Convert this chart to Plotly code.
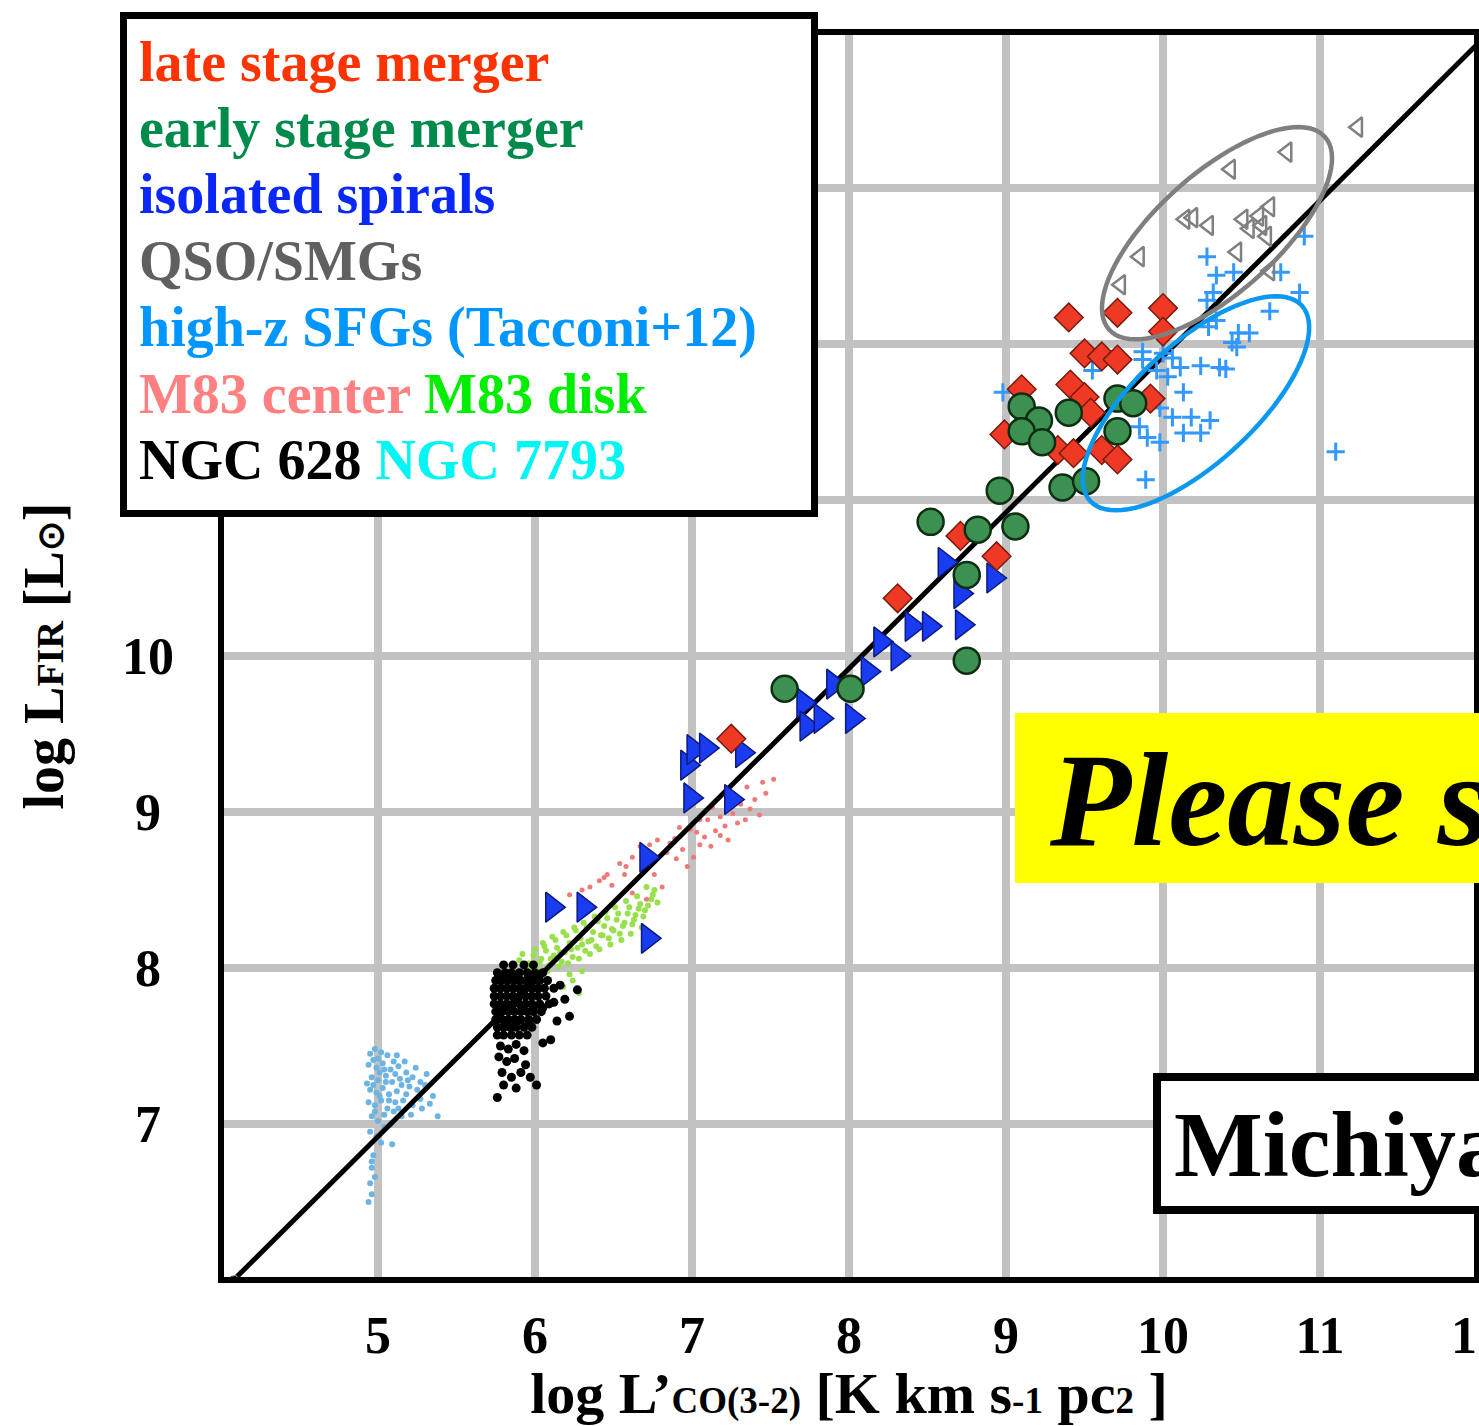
import numpy as np
import plotly.graph_objects as go

# ---------------- data ----------------
# late stage mergers (red diamonds)
late_x = [9.40, 9.71, 10.00, 10.00, 9.50, 9.61, 9.71, 9.41, 9.50, 9.54, 9.10, 8.99,
          9.33, 9.43, 9.61, 9.71, 9.92, 8.71, 8.94, 8.31, 7.25]
late_y = [12.17, 12.20, 12.23, 12.08, 11.94, 11.92, 11.90, 11.74, 11.66, 11.56, 11.71, 11.42,
          11.32, 11.30, 11.32, 11.26, 11.65, 10.77, 10.64, 10.37, 9.47]

# early stage mergers (green circles)
early_x = [9.10, 9.21, 9.10, 9.23, 9.40, 9.71, 9.81, 9.71, 8.96, 9.36, 9.51,
           8.52, 8.82, 9.06, 8.75, 8.75, 7.59, 8.01]
early_y = [11.60, 11.51, 11.44, 11.37, 11.56, 11.65, 11.62, 11.44, 11.06, 11.08, 11.12,
           10.86, 10.81, 10.83, 10.52, 9.97, 9.79, 9.79]

# isolated spirals (blue triangles)
iso_x = [6.11, 6.31, 6.71, 6.72, 6.99, 7.25, 6.97, 7.01, 7.09, 7.32, 7.71, 7.73,
         7.82, 8.02, 7.90, 8.12, 8.20, 8.31, 8.40, 8.51, 8.72, 8.71, 8.61, 8.92]
iso_y = [8.39, 8.39, 8.71, 8.19, 9.09, 9.08, 9.30, 9.40, 9.41, 9.38, 9.70, 9.55,
         9.60, 9.60, 9.82, 9.90, 10.09, 10.00, 10.19, 10.19, 10.20, 10.40, 10.60, 10.50]

# QSO / SMGs (open triangles)
qso_x = [11.24, 10.79, 10.43, 10.14, 10.19, 10.29, 10.51, 10.61, 10.68, 10.63,
         10.66, 10.47, 9.85, 9.73, 10.68, 10.55]
qso_y = [13.39, 13.23, 13.12, 12.80, 12.81, 12.76, 12.80, 12.82, 12.88, 12.76,
         12.69, 12.59, 12.56, 12.38, 12.47, 12.74]

# high-z SFGs, Tacconi+12 (crosses)
sfg_x = [10.90, 10.28, 10.34, 10.45, 10.75, 10.87, 10.28, 10.68, 10.34, 10.48,
         10.55, 10.47, 9.87, 10.00, 10.06, 10.24, 10.36, 9.96, 10.03, 10.13,
         8.98, 9.55, 9.87, 9.98, 10.06, 10.30, 10.13, 10.24, 9.85, 9.90,
         9.98, 9.89, 11.10, 10.11, 10.32, 10.29, 10.44, 10.18, 10.40]
sfg_y = [12.69, 12.56, 12.44, 12.46, 12.46, 12.33, 12.28, 12.21, 12.15, 12.07,
         12.07, 11.98, 11.95, 11.94, 11.91, 11.86, 11.85, 11.83, 11.79, 11.69,
         11.69, 11.83, 11.90, 11.59, 11.53, 11.51, 11.43, 11.43, 11.47, 11.40,
         11.37, 11.13, 11.31, 11.85, 12.33, 12.11, 12.01, 11.53, 11.84]

# M83 centre (salmon dots)
m83c_x = [6.35, 6.41, 6.46, 6.54, 6.62, 6.67, 6.73, 6.78, 6.84, 6.89, 6.92, 6.99,
          7.03, 7.05, 7.10, 7.13, 7.18, 7.26, 7.29, 7.26, 7.35, 7.31, 7.40, 7.45,
          7.52, 7.43, 7.01, 7.12, 6.97, 6.81, 6.71, 6.62, 6.22, 6.49, 6.57, 7.05,
          7.18, 7.34, 7.23, 6.30, 6.44, 6.58, 6.70, 6.86, 6.94, 7.08, 7.21, 7.37,
          7.47, 6.76, 6.90, 7.15]
m83c_y = [8.52, 8.56, 8.60, 8.67, 8.71, 8.78, 8.79, 8.82, 8.74, 8.83, 8.90, 8.89,
          8.87, 8.95, 8.95, 9.03, 8.97, 8.99, 8.93, 9.08, 9.16, 9.05, 9.08, 9.19,
          9.21, 8.98, 8.71, 8.78, 8.65, 8.52, 8.44, 8.48, 8.47, 8.53, 8.60, 8.79,
          8.85, 8.95, 8.82, 8.50, 8.58, 8.65, 8.74, 8.80, 8.76, 8.84, 8.91, 9.02,
          9.12, 8.60, 8.70, 8.88]

# M83 disk (light green dots)
m83d_x = [5.86, 5.90, 5.93, 5.96, 5.99, 6.02, 6.04, 6.07, 6.09, 6.12, 6.14, 6.17,
          6.19, 6.22, 6.24, 6.27, 6.29, 6.32, 6.34, 6.37, 6.39, 6.42, 6.44, 6.47,
          6.49, 6.52, 6.54, 6.57, 6.59, 6.62, 6.64, 6.67, 6.69, 6.72, 6.75, 6.78,
          5.95, 6.01, 6.08, 6.15, 6.21, 6.28, 6.35, 6.41, 6.48, 6.55, 6.61, 6.68,
          6.05, 6.11, 6.18, 6.25, 6.31, 6.38, 6.45, 6.51, 6.58, 6.65, 6.71,
          6.18, 6.24, 6.28, 6.30, 6.22,
          5.88, 5.97, 6.03, 6.10, 6.16, 6.23, 6.30, 6.36, 6.43, 6.50, 6.56, 6.63,
          6.70, 6.76, 5.92, 6.00, 6.06, 6.13, 6.20, 6.26, 6.33, 6.40, 6.46, 6.53,
          6.60, 6.66, 6.74]
m83d_y = [8.00, 8.05, 7.96, 8.03, 8.08, 7.99, 8.06, 8.11, 8.02, 8.08, 8.13, 8.04,
          8.10, 8.16, 8.07, 8.13, 8.19, 8.11, 8.17, 8.23, 8.14, 8.21, 8.27, 8.19,
          8.25, 8.31, 8.22, 8.29, 8.35, 8.28, 8.34, 8.41, 8.33, 8.40, 8.47, 8.42,
          7.92, 7.95, 7.98, 8.01, 8.03, 8.06, 8.09, 8.12, 8.15, 8.18, 8.22, 8.26,
          8.16, 8.20, 8.23, 8.26, 8.29, 8.33, 8.36, 8.39, 8.43, 8.46, 8.52,
          7.88, 7.92, 7.84, 7.98, 7.96,
          7.97, 8.00, 8.04, 8.06, 8.10, 8.12, 8.15, 8.18, 8.21, 8.24, 8.27, 8.31,
          8.37, 8.50, 8.09, 8.12, 8.14, 8.18, 8.21, 8.24, 8.26, 8.30, 8.32, 8.35,
          8.39, 8.38, 8.44]

# NGC 628 (black dots)
n628_x = [5.80, 5.86, 5.93, 5.99,
          5.76, 5.81, 5.85, 5.90, 5.95, 6.00, 6.05,
          5.75, 5.79, 5.83, 5.87, 5.91, 5.95, 5.99, 6.03, 6.08,
          5.74, 5.78, 5.82, 5.86, 5.90, 5.94, 5.98, 6.02, 6.06, 6.12,
          5.74, 5.78, 5.82, 5.86, 5.90, 5.94, 5.98, 6.02, 6.07,
          5.74, 5.78, 5.82, 5.86, 5.90, 5.94, 5.98, 6.03, 6.09,
          5.75, 5.79, 5.83, 5.87, 5.91, 5.95, 5.99, 6.04,
          5.75, 5.79, 5.83, 5.87, 5.91, 5.96, 6.01,
          5.76, 5.80, 5.84, 5.88, 5.93, 5.98,
          5.76, 5.80, 5.85, 5.90, 5.95,
          5.78, 5.83, 5.88, 5.93, 5.77, 5.82, 5.87, 5.94, 5.79, 5.85, 5.91, 5.97,
          5.80, 5.88, 5.76, 6.01, 6.10, 6.22, 6.27, 6.16, 6.12, 6.19, 6.14, 6.05,
          5.77, 5.84, 5.89, 5.96, 6.02, 5.78, 5.85, 5.92, 5.99, 6.05, 5.81, 5.88, 5.96]
n628_y = [8.02, 8.02, 8.02, 8.02,
          7.97, 7.97, 7.97, 7.97, 7.97, 7.97, 7.97,
          7.92, 7.92, 7.92, 7.92, 7.92, 7.92, 7.92, 7.92, 7.92,
          7.87, 7.87, 7.87, 7.87, 7.87, 7.87, 7.87, 7.87, 7.87, 7.87,
          7.82, 7.82, 7.82, 7.82, 7.82, 7.82, 7.82, 7.82, 7.82,
          7.77, 7.77, 7.77, 7.77, 7.77, 7.77, 7.77, 7.77, 7.77,
          7.72, 7.72, 7.72, 7.72, 7.72, 7.72, 7.72, 7.72,
          7.67, 7.67, 7.67, 7.67, 7.67, 7.67, 7.67,
          7.62, 7.62, 7.62, 7.62, 7.62, 7.62,
          7.57, 7.57, 7.57, 7.57, 7.57,
          7.50, 7.48, 7.51, 7.47, 7.43, 7.40, 7.42, 7.38, 7.33, 7.30, 7.33, 7.30,
          7.25, 7.23, 7.17, 7.25, 7.54, 7.69, 7.86, 7.89, 7.78, 7.80, 7.66, 7.52,
          7.945, 7.945, 7.945, 7.945, 7.945, 7.745, 7.745, 7.745, 7.745, 7.745,
          7.645, 7.645, 7.645]

# NGC 7793 (light blue dots)
n7793_x = [4.95, 4.98, 5.02, 5.06, 5.10, 4.94, 4.99, 5.03, 5.08, 5.13, 5.18, 5.22,
           4.96, 5.00, 5.05, 5.09, 5.14, 5.20, 5.25, 5.30, 5.35, 4.95, 4.99, 5.03,
           5.07, 5.12, 5.16, 5.22, 5.28, 5.38, 4.94, 4.98, 5.02, 5.06, 5.10, 5.15,
           4.96, 5.00, 5.04, 5.08, 4.95, 4.99, 5.02, 4.97, 4.96, 4.95, 4.96, 4.94,
           5.12, 5.17, 5.24, 5.31, 5.00, 5.05, 5.09,
           4.97, 5.01, 5.04, 5.11, 5.15, 5.19, 5.27, 4.93, 4.97, 5.01, 5.07, 5.11,
           5.18, 5.33, 4.98, 5.04, 5.13, 5.27, 5.21, 4.96, 4.98]
n7793_y = [7.45, 7.48, 7.46, 7.44, 7.40, 7.38, 7.36, 7.39, 7.35, 7.37, 7.33, 7.30,
           7.30, 7.28, 7.31, 7.27, 7.29, 7.24, 7.22, 7.25, 7.18, 7.22, 7.20, 7.23,
           7.19, 7.21, 7.15, 7.12, 7.10, 7.05, 7.14, 7.12, 7.15, 7.10, 7.08, 7.05,
           7.05, 7.02, 6.98, 7.00, 6.95, 6.92, 6.88, 6.80, 6.72, 6.62, 6.55, 6.50,
           7.44, 7.40, 7.36, 7.32, 7.42, 7.27, 6.87,
           7.41, 7.33, 7.35, 7.32, 7.25, 7.28, 7.27, 7.26, 7.25, 7.18, 7.15, 7.14,
           7.19, 7.13, 7.08, 7.06, 7.10, 7.16, 7.06, 6.76, 6.66]

# one-to-one style relation drawn across the panel
rel_x = [4.08, 12.0]
rel_y = [6.0, 13.92]

x_ticks = [5, 6, 7, 8, 9, 10, 11, 12]
y_ticks = [7, 8, 9, 10, 11, 12, 13]
y_ticktext = ["7\u00a0", "8\u00a0", "9\u00a0", "10", "", "", ""]

# ---------------- layout geometry ----------------
W, H = 1479, 1426
ML, MR, MT, MB = 221, 2, 32, 146
PW, PH = W - ML - MR, H - MT - MB


def px_x(p):
    return (p - ML) / PW


def px_y(p):
    return (H - MB - p) / PH


SERIF = "Liberation Serif, Times New Roman, serif"

fig = go.Figure()


def dots(x, y, color, size):
    fig.add_trace(go.Scatter(x=x, y=y, mode="markers",
                             marker=dict(size=size, color=color, line=dict(width=0)),
                             hoverinfo="skip"))


dots(n7793_x, n7793_y, "#6cb4e4", 6)
dots(m83d_x, m83d_y, "#98e04c", 6)
dots(m83c_x, m83c_y, "#f07a78", 5)
dots(n628_x, n628_y, "#000000", 9)

fig.add_trace(go.Scatter(x=rel_x, y=rel_y, mode="lines+markers",
                         line=dict(color="black", width=5),
                         marker=dict(size=[10, 0], color="black"),
                         hoverinfo="skip"))

fig.add_trace(go.Scatter(x=sfg_x, y=sfg_y, mode="markers",
                         marker=dict(symbol="cross-thin", size=13,
                                     line=dict(color="#3399ff", width=3))))
fig.add_trace(go.Scatter(x=qso_x, y=qso_y, mode="markers",
                         marker=dict(symbol="triangle-left-open", size=17, color="#808080",
                                     line=dict(color="#808080", width=2.5))))
fig.add_trace(go.Scatter(x=iso_x, y=iso_y, mode="markers",
                         marker=dict(symbol="triangle-right", size=26, color="#1a3cf0",
                                     line=dict(color="#0a1a80", width=1.5))))
fig.add_trace(go.Scatter(x=late_x, y=late_y, mode="markers",
                         marker=dict(symbol="diamond", size=22, color="#ee3a24",
                                     line=dict(color="#7a1a0e", width=1.5))))
fig.add_trace(go.Scatter(x=early_x, y=early_y, mode="markers",
                         marker=dict(symbol="circle", size=26, color="#3c9150",
                                     line=dict(color="#0d2e12", width=2.5))))


def ellipse_path(cx, cy, a, b, ang_deg, n=90):
    th = np.radians(ang_deg)
    t = np.linspace(0, 2 * np.pi, n, endpoint=False)
    xs = cx + a * np.cos(th) * np.cos(t) - b * np.sin(th) * np.sin(t)
    ys = cy + a * np.sin(th) * np.cos(t) + b * np.cos(th) * np.sin(t)
    pts = ["{:.4f},{:.4f}".format(u, v) for u, v in zip(xs, ys)]
    return "M" + " L".join(pts) + " Z"


shapes = [
    # grey ellipse around QSO/SMGs
    dict(type="path", xref="x", yref="y", path=ellipse_path(10.344, 12.71, 0.924, 0.382, 42),
         line=dict(color="#7f7f7f", width=4.5), layer="above"),
    # blue ellipse around high-z SFGs
    dict(type="path", xref="x", yref="y", path=ellipse_path(10.21, 11.62, 0.92, 0.38, 43),
         line=dict(color="#0a98f0", width=4.5), layer="above"),
    # plot frame
    dict(type="rect", xref="paper", yref="paper", x0=0, x1=1, y0=0, y1=1,
         line=dict(color="black", width=6), layer="above"),
    # key box
    dict(type="rect", xref="paper", yref="paper",
         x0=px_x(123.5), x1=px_x(814.5), y0=px_y(513.5), y1=px_y(15.5),
         line=dict(color="black", width=7), fillcolor="white", layer="above"),
    # yellow banner
    dict(type="rect", xref="paper", yref="paper",
         x0=px_x(1015), x1=px_x(1520), y0=px_y(883), y1=px_y(713),
         line=dict(width=0), fillcolor="#ffff00", layer="above"),
    # name box
    dict(type="rect", xref="paper", yref="paper",
         x0=px_x(1157), x1=px_x(1540), y0=px_y(1210), y1=px_y(1077),
         line=dict(color="black", width=8), fillcolor="white", layer="above"),
]

key_lines = [
    ("late stage merger", "#ff3300"),
    ("early stage merger", "#008a4c"),
    ("isolated spirals", "#0a28f5"),
    ("QSO/SMGs", "#606060"),
    ("high-z SFGs (Tacconi+12)", "#0096ff"),
    ("<span style='color:#ff8080'>M83 center</span> <span style='color:#00ee00'>M83 disk</span>", None),
    ("<span style='color:#000000'>NGC 628</span> <span style='color:#00f5f5'>NGC 7793</span>", None),
]
key_baselines = [81, 147, 213, 280, 346, 413, 479]

annotations = []
for (txt, col), base in zip(key_lines, key_baselines):
    annotations.append(dict(
        text=txt, xref="paper", yref="paper", x=px_x(137), y=px_y(base - 19),
        xanchor="left", yanchor="middle", showarrow=False,
        font=dict(family=SERIF, size=56, color=col or "black", weight="bold")))

annotations.append(dict(
    text="<i>Please s</i>", xref="paper", yref="paper", x=px_x(1047), y=px_y(845 - 45),
    xanchor="left", yanchor="middle", showarrow=False,
    font=dict(family=SERIF, size=133, color="black", weight="bold")))
annotations.append(dict(
    text="Michiya", xref="paper", yref="paper", x=px_x(1172), y=px_y(1176 - 32),
    xanchor="left", yanchor="middle", showarrow=False,
    font=dict(family=SERIF, size=94, color="black", weight="bold")))

small = "font-size:37px"
x_title = ("log L\u2019<span style='%s'>CO(3-2)</span> [K km s<span style='%s'>-1</span> "
           "pc<span style='%s'>2</span> ]") % (small, small, small)
y_title = "log L<span style='font-size:38px'>FIR</span> [L<span style='font-size:36px'>\u2299</span>]"

fig.update_layout(
    width=W, height=H,
    margin=dict(l=ML, r=MR, t=MT, b=MB, pad=0, autoexpand=False),
    paper_bgcolor="white", plot_bgcolor="white",
    showlegend=False,
    shapes=shapes,
    annotations=annotations,
    xaxis=dict(range=[4, 12], tickvals=x_ticks, ticktext=[str(v) for v in x_ticks],
               showgrid=True, gridcolor="#c2c2c2", gridwidth=8, zeroline=False,
               showline=False, ticks="", ticklabelstandoff=20, ticklabeloverflow="allow",
               automargin=False,
               tickfont=dict(family=SERIF, size=52, color="black", weight="bold"),
               title=dict(text=x_title, standoff=10,
                          font=dict(family=SERIF, size=58, color="black", weight="bold"))),
    yaxis=dict(range=[6, 14], tickvals=y_ticks, ticktext=y_ticktext,
               showgrid=True, gridcolor="#c2c2c2", gridwidth=8, zeroline=False,
               showline=False, ticks="", ticklabelstandoff=46, automargin=False,
               tickfont=dict(family=SERIF, size=52, color="black", weight="bold"),
               title=dict(text=y_title, standoff=40,
                          font=dict(family=SERIF, size=56, color="black", weight="bold"))),
)

fig.write_html("out.html")
